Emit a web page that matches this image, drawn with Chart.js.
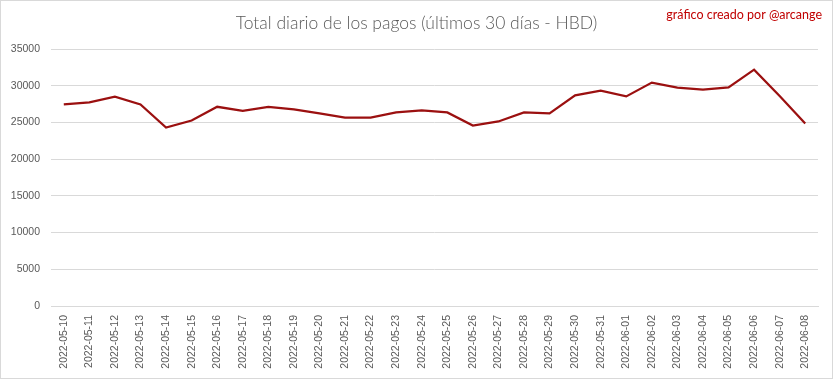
<!DOCTYPE html>
<html>
<head>
<meta charset="utf-8">
<script src="https://cdn.jsdelivr.net/npm/chart.js@4/dist/chart.umd.min.js"></script>
<style>
html,body{margin:0;padding:0;background:#fff;}
#wrap{width:833px;height:379px;position:relative;}
</style>
</head>
<body>
<div id="wrap"><canvas id="c" width="833" height="379"></canvas></div>
<script>
const categories = ["2022-05-10","2022-05-11","2022-05-12","2022-05-13","2022-05-14","2022-05-15","2022-05-16","2022-05-17","2022-05-18","2022-05-19","2022-05-20","2022-05-21","2022-05-22","2022-05-23","2022-05-24","2022-05-25","2022-05-26","2022-05-27","2022-05-28","2022-05-29","2022-05-30","2022-05-31","2022-06-01","2022-06-02","2022-06-03","2022-06-04","2022-06-05","2022-06-06","2022-06-07","2022-06-08"];
const pagosHBD = [27450,27720,28500,27450,24300,25260,27130,26590,27130,26770,26220,25670,25670,26360,26630,26360,24580,25130,26360,26220,28680,29320,28540,30420,29730,29460,29770,32190,28600,24850];
const yTicks = [0,5000,10000,15000,20000,25000,30000,35000];
const titleText = "Total diario de los pagos (últimos 30 días - HBD)";
const creditText = "gráfico creado por @arcange";

const frame = {
  id: 'frame',
  beforeDraw(chart){
    const ctx = chart.ctx;
    ctx.save();
    ctx.fillStyle = '#ffffff';
    ctx.fillRect(0,0,chart.width,chart.height);
    ctx.restore();
  },
  afterDraw(chart){
    const ctx = chart.ctx;
    ctx.save();
    ctx.strokeStyle = '#d9d9d9';
    ctx.lineWidth = 1;
    ctx.strokeRect(0.5,0.5,chart.width-1,chart.height-1);
    ctx.fillStyle = '#595959';
    ctx.font = '300 17.5px "Lato", sans-serif';
    ctx.textAlign = 'center';
    ctx.textBaseline = 'middle';
    ctx.fillText(titleText, chart.width/2, 23);
    ctx.fillStyle = '#c00000';
    ctx.font = '12.5px "Lato", sans-serif';
    ctx.textAlign = 'right';
    ctx.fillText(creditText, 822, 15);
    ctx.restore();
  }
};

new Chart(document.getElementById('c'), {
  type: 'line',
  data: {
    labels: categories,
    datasets: [{
      data: pagosHBD,
      borderColor: '#9b1010',
      borderWidth: 2.25,
      pointRadius: 0,
      tension: 0,
      fill: false
    }]
  },
  options: {
    responsive: false,
    animation: false,
    devicePixelRatio: 1,
    layout: { padding: { top: 49, right: 15, bottom: 0, left: 0 } },
    plugins: { legend: { display: false }, title: { display: false }, tooltip: { enabled: false } },
    scales: {
      x: {
        offset: true,
        grid: { display: false, drawTicks: false },
        border: { display: true, color: '#d9d9d9', width: 1 },
        ticks: {
          autoSkip: false,
          minRotation: 90, maxRotation: 90,
          padding: 9,
          color: '#595959',
          font: { family: '"Liberation Sans", sans-serif', size: 10.5 }
        },
        afterFit(s){ s.height = 73; }
      },
      y: {
        min: 0, max: 35000,
        afterBuildTicks(s){ s.ticks = yTicks.map(v => ({ value: v })); },
        grid: { color: '#d9d9d9', lineWidth: 1, drawTicks: false },
        border: { display: false },
        ticks: {
          padding: 11,
          color: '#595959',
          callback: v => String(v),
          font: { family: '"Liberation Sans", sans-serif', size: 10.5 }
        },
        afterFit(s){ s.width = 51; }
      }
    }
  },
  plugins: [frame]
});
</script>
</body>
</html>
